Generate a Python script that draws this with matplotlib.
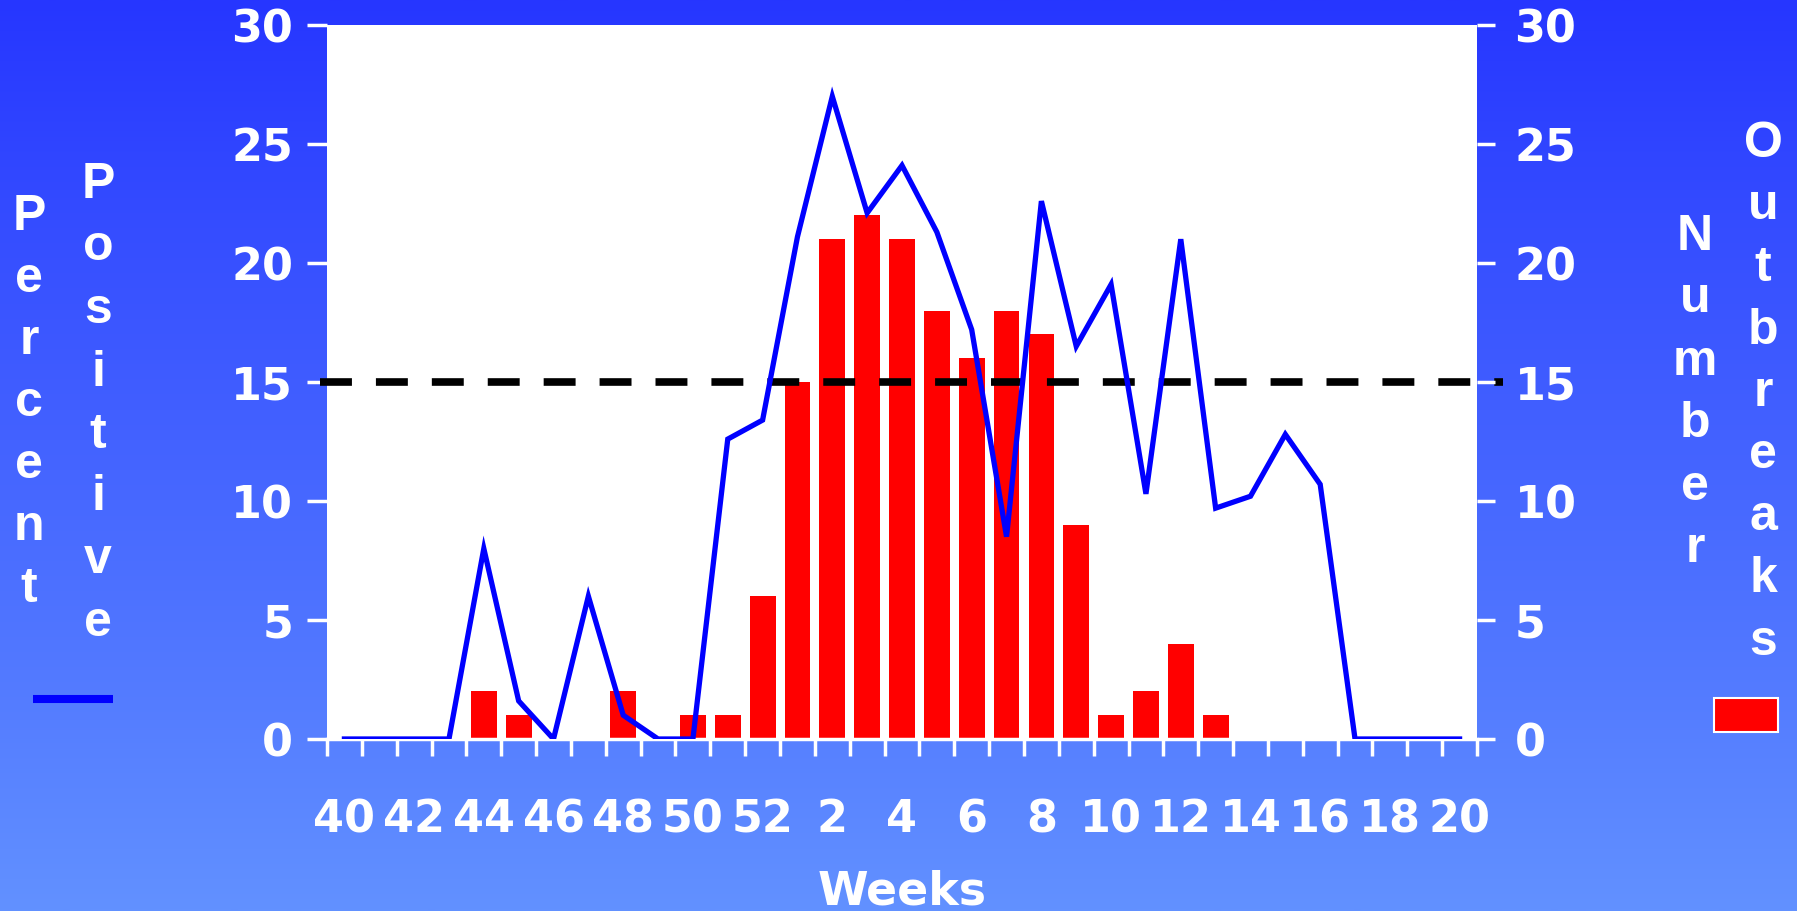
import numpy as np
import matplotlib
matplotlib.use('Agg')
import matplotlib.pyplot as plt
from matplotlib.patches import Rectangle
from matplotlib.lines import Line2D

# ---------------- data ----------------
weeks = [40, 41, 42, 43, 44, 45, 46, 47, 48, 49, 50, 51, 52,
         1, 2, 3, 4, 5, 6, 7, 8, 9, 10, 11, 12, 13, 14, 15, 16, 17, 18, 19, 20]
week_tick_labels = ['40', '42', '44', '46', '48', '50', '52', '2', '4', '6',
                    '8', '10', '12', '14', '16', '18', '20']
percent_positive = [0, 0, 0, 0, 8.0, 1.6, 0, 6.0, 1.0, 0, 0, 12.6, 13.4,
                    21.1, 27.0, 22.1, 24.1, 21.3, 17.2, 8.5, 22.6, 16.5, 19.1,
                    10.3, 21.0, 9.7, 10.2, 12.8, 10.7, 0, 0, 0, 0]
outbreaks = [0, 0, 0, 0, 2, 1, 0, 0, 2, 0, 1, 1, 6,
             15, 21, 22, 21, 18, 16, 18, 17, 9, 1, 2, 4, 1, 0, 0, 0, 0, 0, 0, 0]
threshold = 15
y_ticks = [0, 5, 10, 15, 20, 25, 30]

# ---------------- figure ----------------
W, H = 1797, 912
fig = plt.figure(figsize=(W / 100, H / 100), dpi=100)

# gradient background
bg = fig.add_axes([0, 0, 1, 1], zorder=-10)
top = np.array([38, 54, 255]) / 255.0
bot = np.array([98, 145, 255]) / 255.0
t = np.linspace(0, 1, 256)[:, None]
grad = (top[None, :] * (1 - t) + bot[None, :] * t)[:, None, :]
bg.imshow(grad, aspect='auto', extent=[0, 1, 0, 1], interpolation='bilinear')
bg.set_axis_off()

L, R, T, B = 327, 1477, 26, 740
ax = fig.add_axes([L / W, 1 - B / H, (R - L) / W, (B - T) / H], zorder=1)
ax.set_facecolor('white')

x = np.arange(len(weeks))
ax.bar(x, outbreaks, width=0.74, color='#FF0000', zorder=2)
ax.plot([-0.7, 33.25], [threshold, threshold], color='black', lw=5.5,
        dashes=(4.18, 3.14), clip_on=False, zorder=3)
ax.plot(x, percent_positive, color='#0000FF', lw=3.8, zorder=4,
        solid_joinstyle='miter')

ax.set_xlim(-0.5, len(weeks) - 0.5)
ax.set_ylim(0, 30)

tickfont = dict(family='DejaVu Sans', weight='bold', size=32)
xfont = dict(family='DejaVu Sans', weight='bold', size=32)

ax.set_xticks(x[::2])
ax.set_xticklabels(week_tick_labels, color='white', fontdict=xfont)
ax.set_xticks(np.arange(-0.5, len(weeks), 1), minor=True)
ax.tick_params(axis='x', which='major', length=0, pad=42)
ax.tick_params(axis='x', which='minor', length=12, width=2.5, color='white',
               direction='out')

ax.set_yticks(y_ticks)
ax.set_yticklabels([str(v) for v in y_ticks], color='white', fontdict=tickfont)
ax.tick_params(axis='y', length=14.4, width=2.5, color='white', pad=10)

for s in ['top', 'left', 'right']:
    ax.spines[s].set_visible(False)
ax.spines['bottom'].set_color('white')
ax.spines['bottom'].set_linewidth(2.5)

ax2 = ax.twinx()
ax2.set_ylim(0, 30)
ax2.set_yticks(y_ticks)
ax2.set_yticklabels([str(v) for v in y_ticks], color='white', fontdict=tickfont)
ax2.tick_params(axis='y', length=13, width=2.5, color='white', pad=14)
for s in ['top', 'left', 'right', 'bottom']:
    ax2.spines[s].set_visible(False)

ax.set_xlabel('Weeks', color='white', family='DejaVu Sans', weight='bold',
              size=33, labelpad=20)


def ftext(px, py, s, **kw):
    fig.text(px / W, 1 - py / H, s, transform=fig.transFigure, **kw)


letterfont = dict(family='Liberation Sans', weight='bold', size=36,
                  color='white', ha='center', va='baseline')


def vertical_word(word, cx, first_baseline, pitch):
    for i, ch in enumerate(word):
        ftext(cx, first_baseline + i * pitch, ch, **letterfont)


vertical_word('Percent', 29, 230, 62)
vertical_word('Positive', 98, 198, 62.5)
vertical_word('Number', 1695, 250, 62.5)
vertical_word('Outbreaks', 1763, 157, 62.2)

# legend markers
fig.add_artist(Line2D([33 / W, 113 / W], [1 - 700 / H, 1 - 700 / H],
                      color='#0000FF', lw=5.8, transform=fig.transFigure,
                      solid_capstyle='butt'))
fig.add_artist(Rectangle((1714 / W, 1 - 733 / H), 64 / W, 34 / H,
                         facecolor='#FF0000', edgecolor='white', lw=1.5,
                         transform=fig.transFigure))

fig.savefig('out.png', dpi=100)
